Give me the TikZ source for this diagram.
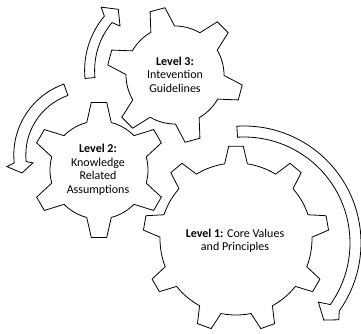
\documentclass[tikz,border=0pt]{standalone}
\usepackage{fontspec}
\setmainfont{Carlito}

% gear outline: centre x, centre y, teeth, angle of first tooth,
% root radius, tip radius, half-angle at root, half-angle at tip
\newcommand\drawgear[8]{%
  \draw[gear] ([shift={(#1,#2)}]#4-#7:#5pt)
  \foreach \k [evaluate=\k as \ta using {#4+(\k-1)*360/#3},
               evaluate=\k as \tb using {#4+\k*360/#3-#7}] in {1,...,#3}{
    -- ([shift={(#1,#2)}]\ta-#8:#6pt)
    -- ([shift={(#1,#2)}]\ta+#8:#6pt)
    -- ([shift={(#1,#2)}]\ta+#7:#5pt)
    -- ([shift={(#1,#2)}]\ta+#7:#5pt) arc[start angle=\ta+#7, end angle=\tb, radius=#5pt]
  } -- cycle;}

\begin{document}
\begin{tikzpicture}[x=1pt,y=1pt,
  gear/.style={draw=black, line width=0.8pt, fill=white, line join=miter},
  bentarrow/.style={draw=black, line width=0.8pt, fill=white, line join=miter},
  label/.style={align=center, font=\fontsize{12}{13.5}\selectfont, text=black, inner sep=0pt}]
\useasboundingbox (0,0) rectangle (361,333);

% the three gears
\drawgear{236}{94}{9}{90}{76}{93}{8.6}{4.5}
\drawgear{99}{163}{6}{30}{49}{68}{14.5}{6.5}
\drawgear{175}{258}{6}{45}{49}{68}{14.5}{6.5}

% curved arrow beside level 3
\begin{scope}[shift={(169,262.6)}]
  \draw[bentarrow] (185.5:84.4pt) arc[start angle=185.5, end angle=140, radius=84.4pt]
    -- (137:92.7pt) -- (129.7:79.4pt) -- (137.8:66.1pt)
    -- (140:74.4pt) arc[start angle=140, end angle=185.5, radius=74.4pt] -- cycle;
\end{scope}

% curved arrow beside level 2
\begin{scope}[shift={(89,178)}]
  \draw[bentarrow] (109.5:75.2pt) arc[start angle=109.5, end angle=186, radius=75.2pt]
    -- (188:83pt) -- (195:69.4pt) -- (188:56.5pt)
    -- (186:63.2pt) arc[start angle=186, end angle=109.5, radius=63.2pt] -- cycle;
\end{scope}

% large curved arrow around level 1
\begin{scope}[shift={(244,90)}]
  \draw[bentarrow] (93.5:117pt) arc[start angle=93.5, end angle=-35.5, radius=117pt]
    -- (-39:122pt) -- (-44:111pt) -- (-38.5:95pt)
    -- (-35.5:106pt) arc[start angle=-35.5, end angle=93.5, radius=106pt] -- cycle;
\end{scope}

% labels
\node[label] (l3) at (175,258.5) {\textbf{Level 3:}\\Intevention\\Guidelines};
\node[label] (l2) at (98,163) {\textbf{Level 2:}\\Knowledge\\Related\\Assumptions};
\node[label] (l1) at (235,92) {\textbf{Level 1:} Core Values\\and Principles};
\end{tikzpicture}
\end{document}
